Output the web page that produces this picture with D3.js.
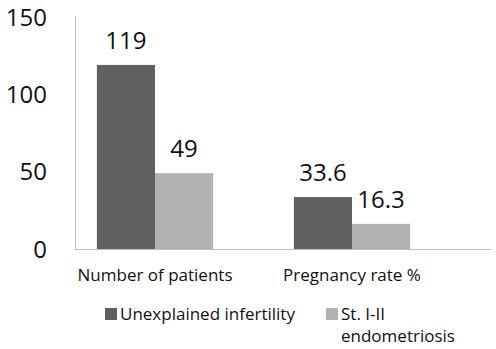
<!DOCTYPE html>
<html>
<head>
<meta charset="utf-8">
<script src="https://cdn.jsdelivr.net/npm/d3@7"></script>
<style>
  body { margin: 0; background: #fff; }
  text { font-family: "Open Sans", sans-serif; fill: #111; }
</style>
</head>
<body>
<svg id="chart-area"></svg>
<script>
const categories = ["Number of patients", "Pregnancy rate %"]
const seriesNames = ["Unexplained infertility", "St. I-II endometriosis"]
const unexplained = [119, 33.6]
const endometriosis = [49, 16.3]
const yTicks = [0, 50, 100, 150]

const colors = ["#606060", "#b2b2b2"]

function drawChart() {
    const svgWidth = 496
    const svgHeight = 349

    const svg = d3.select("#chart-area")
        .attr("width", svgWidth)
        .attr("height", svgHeight)

    const table = categories.map((c, i) => ({
        category: c,
        values: [unexplained[i], endometriosis[i]]
    }))

    const yScale = d3.scaleLinear()
        .domain([0, 150])
        .range([249, 17])

    const xScale = d3.scaleBand()
        .domain(categories)
        .range([56.5, 450.5])
        .paddingInner(0.41)
        .paddingOuter(0.205)

    const subScale = d3.scaleBand()
        .domain([0, 1])
        .range([0, xScale.bandwidth()])

    // axis lines
    svg.append("line")
        .attr("x1", 75.5).attr("x2", 75.5)
        .attr("y1", yScale(150) - 1).attr("y2", yScale(0))
        .attr("stroke", "#bdbdbd")
    svg.append("line")
        .attr("x1", 75).attr("x2", 491)
        .attr("y1", yScale(0) + 0.5).attr("y2", yScale(0) + 0.5)
        .attr("stroke", "#bdbdbd")

    // y tick labels
    svg.append("g")
        .selectAll("text")
        .data(yTicks)
        .enter().append("text")
        .attr("x", 47)
        .attr("y", d => yScale(d))
        .attr("dy", "0.36em")
        .attr("text-anchor", "end")
        .style("font-size", "24px")
        .text(d => d)

    const groups = svg.selectAll("g.group")
        .data(table)
        .enter().append("g")
        .attr("class", "group")
        .attr("transform", d => `translate(${xScale(d.category)},0)`)

    groups.selectAll("rect")
        .data(d => d.values)
        .enter().append("rect")
        .attr("x", (d, i) => subScale(i))
        .attr("y", d => yScale(d))
        .attr("width", subScale.bandwidth())
        .attr("height", d => yScale(0) - yScale(d))
        .attr("fill", (d, i) => colors[i])

    groups.selectAll("text.value")
        .data(d => d.values)
        .enter().append("text")
        .attr("class", "value")
        .attr("x", (d, i) => subScale(i) + subScale.bandwidth() / 2)
        .attr("y", d => yScale(d) - 16)
        .attr("text-anchor", "middle")
        .style("font-size", "24px")
        .text(d => d)

    // category labels
    svg.append("g")
        .selectAll("text")
        .data(categories)
        .enter().append("text")
        .attr("x", d => xScale(d) + xScale.bandwidth() / 2)
        .attr("y", 281)
        .attr("text-anchor", "middle")
        .style("font-size", "17px")
        .text(d => d)

    // legend
    const legend = svg.append("g")
    const legendX = [105, 326]
    seriesNames.forEach((name, i) => {
        legend.append("rect")
            .attr("x", legendX[i]).attr("y", 308)
            .attr("width", 12).attr("height", 12)
            .attr("fill", colors[i])
        const t = legend.append("text")
            .attr("x", legendX[i] + 15)
            .attr("y", 320)
            .style("font-size", "17px")
        const lines = i === 1 ? ["St. I-II", "endometriosis"] : [name]
        lines.forEach((l, j) => {
            t.append("tspan")
                .attr("x", legendX[i] + 15)
                .attr("dy", j === 0 ? 0 : 22)
                .text(l)
        })
    })
}

drawChart()
</script>
</body>
</html>
